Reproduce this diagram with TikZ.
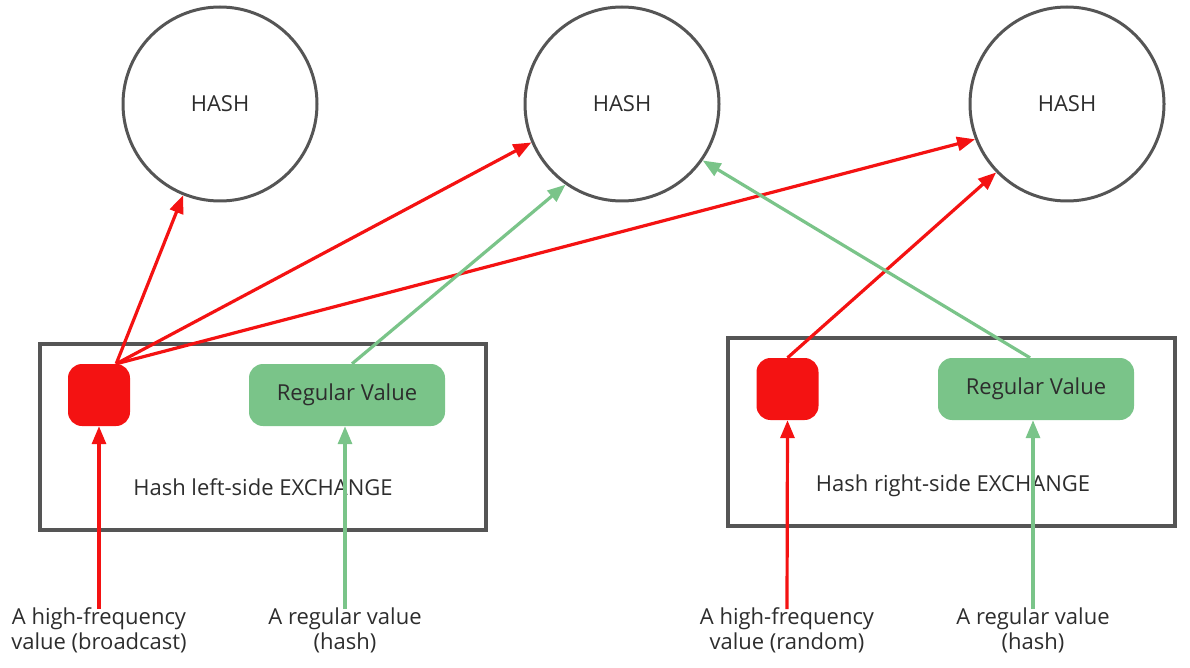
\documentclass[tikz,border=0pt]{standalone}
\usepackage{fontspec}
\setmainfont{Open Sans}
\usetikzlibrary{arrows.meta}
\definecolor{hred}{RGB}{244,18,18}
\definecolor{hgreen}{RGB}{122,196,137}
\definecolor{hgray}{RGB}{85,85,85}
\definecolor{htext}{RGB}{45,45,45}
\begin{document}
\begin{tikzpicture}[x=1pt,y=-1pt,
  hashc/.style={circle,draw=hgray,line width=3pt,minimum size=194pt,inner sep=0pt,font=\fontsize{22}{26}\selectfont,text=htext},
  exbox/.style={rectangle,draw=hgray,line width=3.5pt,inner sep=0pt},
  hfbox/.style={rectangle,rounded corners=14pt,fill=hred,minimum width=62pt,minimum height=62pt,inner sep=0pt},
  rvbox/.style={rectangle,rounded corners=14pt,fill=hgreen,minimum width=196pt,minimum height=62pt,inner sep=0pt,font=\fontsize{22}{26}\selectfont,text=htext},
  lbl/.style={align=center,font=\fontsize{22}{25}\selectfont,text=htext,inner sep=2pt},
  redarr/.style={draw=hred,line width=3.2pt,-{Triangle[length=18pt,width=14pt]}},
  grnarr/.style={draw=hgreen,line width=3.2pt,-{Triangle[length=18pt,width=14pt]}},
]
\useasboundingbox (0,0) rectangle (1190,668);
% circles
\node[hashc] (h1) at (220,104) {HASH};
\node[hashc] (h2) at (622,104) {HASH};
\node[hashc] (h3) at (1067,104) {HASH};
% exchange boxes
\node[exbox,minimum width=446pt,minimum height=186pt] (b1) at (263,437) {};
\node[exbox,minimum width=447pt,minimum height=188pt] (b2) at (951.5,432) {};
\node[lbl] (t1) at (263,487) {Hash left-side EXCHANGE};
\node[lbl] (t2) at (953,486) {Hash right-side EXCHANGE};
% inner boxes
\node[hfbox] (r1) at (99,395) {};
\node[rvbox] (g1) at (347,395) {\raisebox{-3pt}{Regular Value}};
\node[hfbox] (r2) at (787.5,389) {};
\node[rvbox] (g2) at (1036,389) {\raisebox{-3pt}{Regular Value}};
% bottom labels
\node[lbl] (l1) at (99,630) {A high-frequency\\value (broadcast)};
\node[lbl] (l2) at (345,630) {A regular value\\(hash)};
\node[lbl] (l3) at (787,630) {A high-frequency\\value (random)};
\node[lbl] (l4) at (1033,630) {A regular value\\(hash)};
% input arrows
\draw[redarr] ([yshift=-4pt]l1.north) -- (r1.south);
\draw[grnarr] ([yshift=-4pt]l2.north) -- ([xshift=-2pt]g1.south);
\draw[redarr] ([yshift=-4pt]l3.north) -- (r2.south);
\draw[grnarr] ([yshift=-4pt]l4.north) -- ([xshift=-3pt]g2.south);
% output arrows
\coordinate (s1) at ([xshift=-14pt]r1.north east);
\draw[redarr] (s1) -- (h1.248);
\draw[redarr] (s1) -- (h2.203);
\draw[redarr] (s1) -- (h3.201);
\draw[grnarr] ([xshift=5pt]g1.north) -- (h2.235);
\draw[redarr] (r2.north) -- (h3.224);
\draw[grnarr] ([xshift=-6pt]g2.north) -- (h2.325);
\end{tikzpicture}
\end{document}
